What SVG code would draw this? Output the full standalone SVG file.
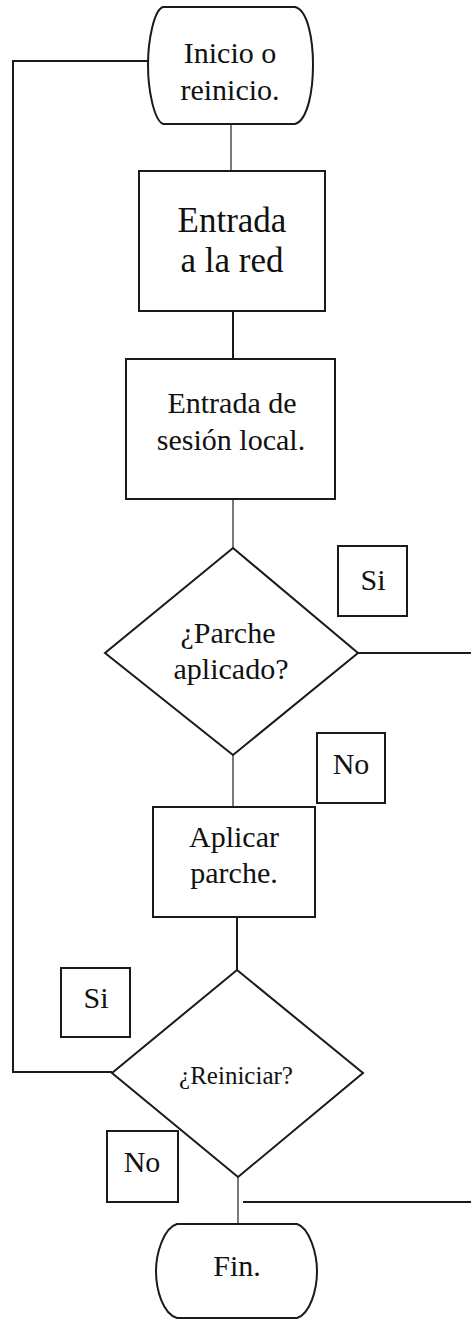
<svg xmlns="http://www.w3.org/2000/svg" width="471" height="1320" viewBox="0 0 471 1320">
<style>
.shape{fill:#fff;stroke:#1a1a1a;stroke-width:2}
.lbl{fill:#fff;stroke:#1a1a1a;stroke-width:2}
.conn{fill:none;stroke:#1a1a1a;stroke-width:2}
.thin{fill:none;stroke:#333;stroke-width:1.3}
text{font-family:"Liberation Serif","Times New Roman",serif;fill:#111;text-anchor:middle}
.t30{font-size:30px}
.t34{font-size:35px}
.t24{font-size:25px}
</style>
<rect width="471" height="1320" fill="#fff"/>
<g id="connectors">
<polyline class="conn" points="148,61 13,61 13,1072 112,1072"/>
<line class="thin" x1="231" y1="124" x2="231" y2="171"/>
<line class="conn" x1="233" y1="311" x2="233" y2="359"/>
<line class="thin" x1="233" y1="499" x2="233" y2="548"/>
<line class="conn" x1="358" y1="653" x2="471" y2="653"/>
<line class="thin" x1="233" y1="755" x2="233" y2="807"/>
<line class="conn" x1="237" y1="917" x2="237" y2="970"/>
<line class="thin" x1="238" y1="1177" x2="238" y2="1224"/>
<line class="conn" x1="243" y1="1202" x2="471" y2="1202"/>
</g>
<g id="inicio">
<path class="shape" d="M163,7 H295 C308,10 313,40 313,65 C313,90 308,120 295,124 H163 C154,120 148,90 148,65 C148,40 154,10 163,7 Z"/>
<text class="t30" x="230" y="63">Inicio o</text>
<text class="t30" x="230" y="100">reinicio.</text>
</g>
<g id="entrada-red">
<rect class="shape" x="139" y="171" width="186" height="140"/>
<text class="t34" x="232" y="232">Entrada</text>
<text class="t34" x="232" y="272">a la red</text>
</g>
<g id="entrada-sesion">
<rect class="shape" x="126" y="359" width="209" height="140"/>
<text class="t30" x="232" y="413">Entrada de</text>
<text class="t30" x="231" y="450">sesión local.</text>
</g>
<g id="parche-aplicado">
<polygon class="shape" points="233,548 358,653 233,755 105,653"/>
<text class="t30" x="228" y="643">¿Parche</text>
<text class="t30" x="231" y="679">aplicado?</text>
</g>
<g id="label-si-1">
<rect class="lbl" x="338" y="546" width="69" height="70"/>
<text class="t30" x="373" y="590">Si</text>
</g>
<g id="label-no-1">
<rect class="lbl" x="317" y="733" width="68" height="70"/>
<text class="t30" x="351" y="774">No</text>
</g>
<g id="aplicar-parche">
<rect class="shape" x="153" y="807" width="162" height="110"/>
<text class="t30" x="234" y="847">Aplicar</text>
<text class="t30" x="234" y="883">parche.</text>
</g>
<g id="reiniciar">
<polygon class="shape" points="237,970 363,1073 238,1177 112,1073"/>
<text class="t24" x="236" y="1084">¿Reiniciar?</text>
</g>
<g id="label-si-2">
<rect class="lbl" x="61" y="968" width="69" height="69"/>
<text class="t30" x="96" y="1008">Si</text>
</g>
<g id="label-no-2">
<rect class="lbl" x="107" y="1131" width="71" height="71"/>
<text class="t30" x="142" y="1172">No</text>
</g>
<g id="fin">
<path class="shape" d="M177,1224 H297 C310,1228 317,1255 317,1271 C317,1290 310,1314 297,1318 H177 C163,1314 156,1290 156,1271 C156,1255 163,1228 177,1224 Z"/>
<text class="t30" x="237" y="1276">Fin.</text>
</g>
</svg>
